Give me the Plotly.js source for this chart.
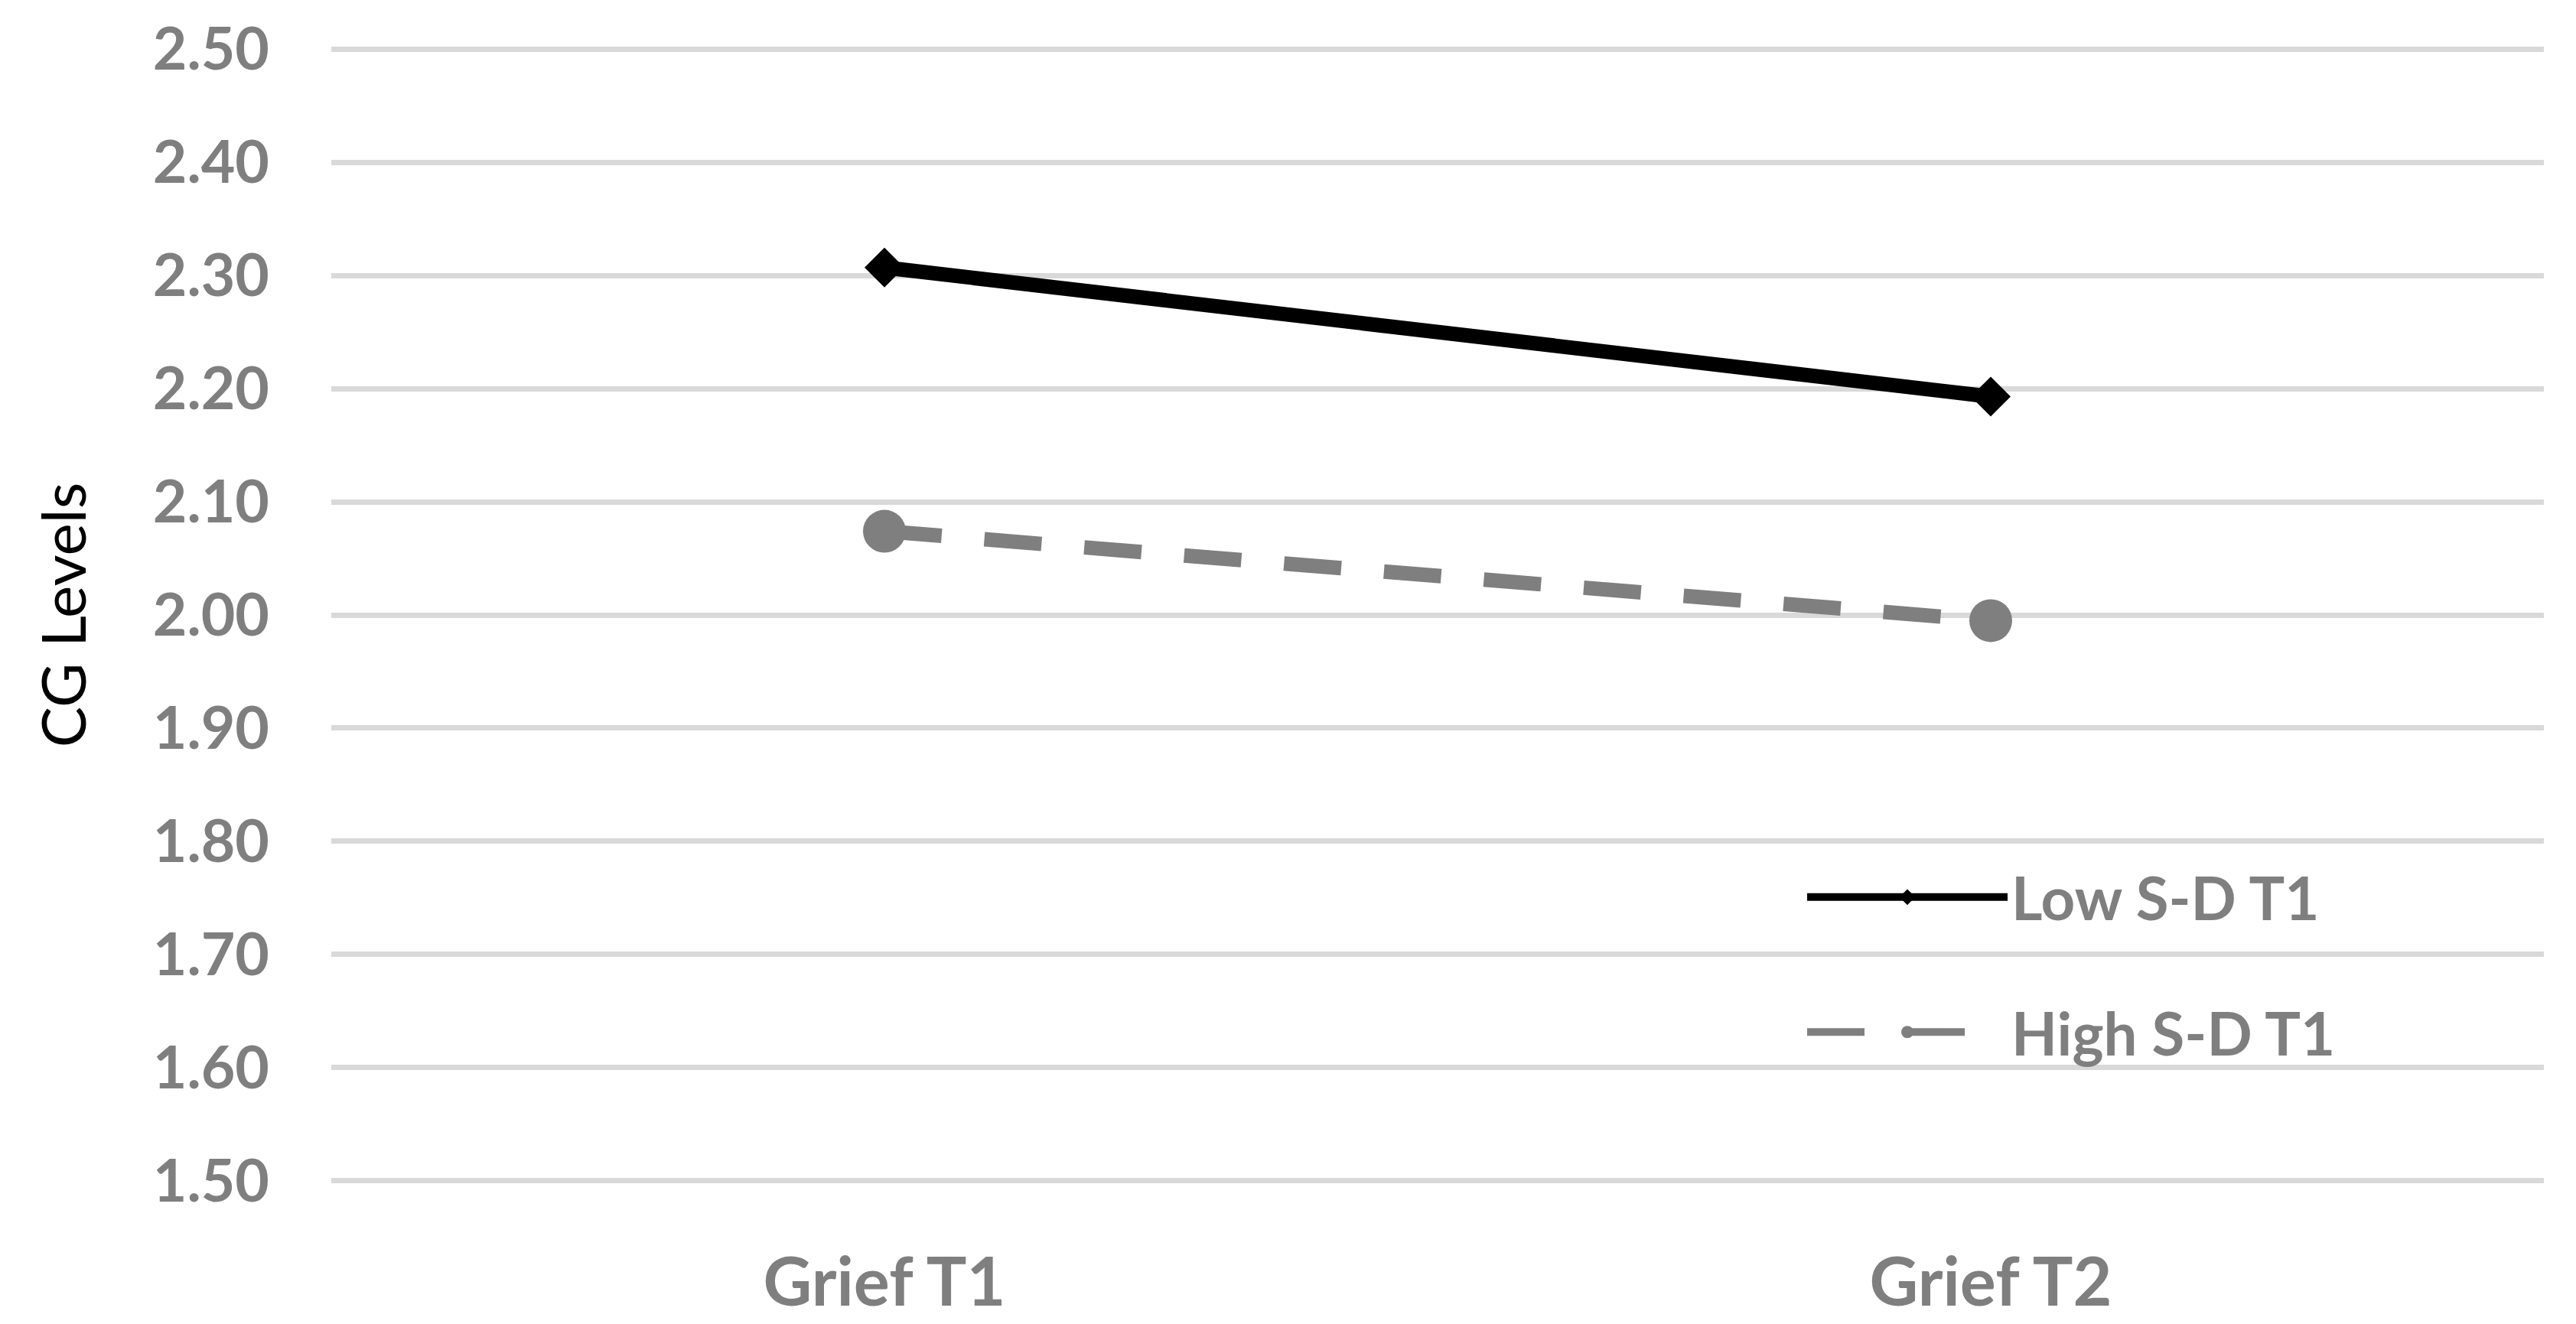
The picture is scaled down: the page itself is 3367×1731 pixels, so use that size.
<!DOCTYPE html>
<html>
<head>
<meta charset="utf-8">
<script src="https://cdn.plot.ly/plotly-3.0.1.min.js"></script>
<style>html,body{margin:0;padding:0;background:#fff;}#chart{width:3367px;height:1731px;}</style>
</head>
<body>
<div id="chart"></div>
<script>
const categories = ["Grief T1", "Grief T2"];
const lowSD = [2.307, 2.193];
const highSD = [2.074, 1.995];
const seriesNames = ["Low S-D T1", "High S-D T1"];
const yTickVals = [1.5, 1.6, 1.7, 1.8, 1.9, 2.0, 2.1, 2.2, 2.3, 2.4, 2.5];
const yTitle = "CG Levels";

const gray = "#7f7f7f";
const traces = [
  {
    x: categories, y: lowSD, name: seriesNames[0], type: "scatter", mode: "lines+markers",
    legendgroup: "low",
    line: {color: "#000000", width: 19},
    marker: {symbol: "diamond", size: 40, color: "#000000"}
  },
  {
    x: categories, y: highSD, name: seriesNames[1], type: "scatter", mode: "lines+markers",
    legendgroup: "high",
    line: {color: gray, width: 19, dash: "75px,56px"},
    marker: {symbol: "circle", size: 56, color: gray}
  }
];

const layout = {
  width: 3367, height: 1731,
  paper_bgcolor: "#ffffff", plot_bgcolor: "#ffffff",
  margin: {l: 433, r: 42, t: 62, b: 185, pad: 0},
  showlegend: true,
  legend: {
    x: 0.6653, y: 0.29, xanchor: "left", yanchor: "top",
    bgcolor: "rgba(0,0,0,0)",
    font: {family: "Lato, sans-serif", size: 78, color: gray, weight: "bold"},
    itemwidth: 262,
    tracegroupgap: 72
  },
  xaxis: {
    type: "category", range: [-0.5, 1.5],
    showgrid: false, zeroline: false, showline: false, ticks: "",
    tickfont: {family: "Lato, sans-serif", size: 88, color: gray, weight: "bold"},
    ticklabelstandoff: 72
  },
  yaxis: {
    range: [1.4985, 2.5015], tickvals: yTickVals, tickformat: ".2f",
    showgrid: true, gridcolor: "#d9d9d9", gridwidth: 7,
    zeroline: false, showline: false, ticks: "",
    tickfont: {family: "Lato, sans-serif", size: 77, color: gray, weight: "bold"},
    ticklabelstandoff: 80,
    title: {text: yTitle, font: {family: "Lato, sans-serif", size: 80, color: "#000000"}, standoff: 60}
  }
};

Plotly.newPlot("chart", traces, layout, {staticPlot: true, displayModeBar: false});
</script>
</body>
</html>
